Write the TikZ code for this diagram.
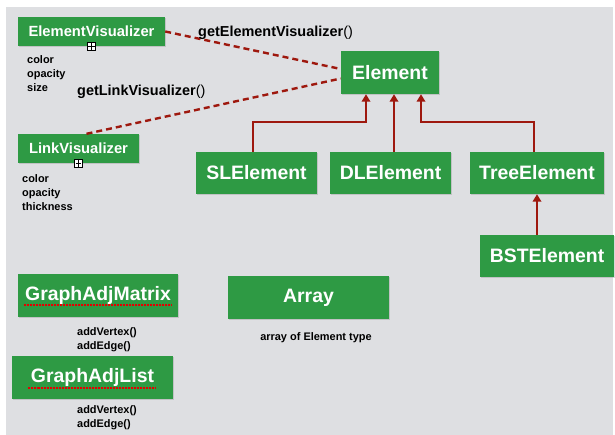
\documentclass[tikz,border=0pt]{standalone}
\usepackage{fontspec}
\setmainfont{Liberation Sans}
\usetikzlibrary{arrows.meta,shadows}

\definecolor{boxgreen}{RGB}{46,154,68}
\definecolor{linkred}{RGB}{158,24,14}
\definecolor{canvasgray}{RGB}{222,223,226}

\begin{document}
\begin{tikzpicture}[x=1bp,y=-1bp,
    classbox/.style={fill=boxgreen, text=white, inner sep=0pt,
      font=\bfseries\fontsize{19.5}{22}\selectfont,
      drop shadow={opacity=0.3, shadow xshift=0.6bp, shadow yshift=-0.8bp}},
    smallbox/.style={classbox, font=\bfseries\fontsize{14.8}{17}\selectfont},
    attrs/.style={align=left, anchor=north west, inner sep=0pt,
      font=\bfseries\fontsize{11}{14}\selectfont},
    method/.style={anchor=west, inner sep=0pt, font=\fontsize{14.5}{17}\selectfont},
    inherit/.style={draw=linkred, line width=1.8bp, -{Triangle[width=8.5bp,length=7.5bp]}},
    uses/.style={draw=linkred, line width=2.4bp, dash pattern=on 6bp off 4bp},
    plusbox/.style={draw=black, fill=white, line width=0.6bp, minimum size=8bp, inner sep=0pt},
    spell/.style={draw=red!90!black, line width=1.2bp, dash pattern=on 2bp off 1bp}
  ]
  \useasboundingbox (0,0) rectangle (615,435);
  \fill[white] (0,0) rectangle (615,435);
  \fill[canvasgray] (6,7) rectangle (613,435);

  % visualizers
  \node[smallbox, minimum width=147bp, minimum height=29bp] (evis) at (91.5,31.5) {ElementVisualizer};
  \node[smallbox, minimum width=121bp, minimum height=29bp] (lvis) at (78.5,148.5) {LinkVisualizer};
  \node[plusbox] (evisplus) at (evis.south) {};
  \node[plusbox] (lvisplus) at (lvis.south) {};
  \draw[line width=0.6bp, shorten <=1.5bp, shorten >=1.5bp]
    (evisplus.north) -- (evisplus.south) (evisplus.west) -- (evisplus.east)
    (lvisplus.north) -- (lvisplus.south) (lvisplus.west) -- (lvisplus.east);
  \node[attrs] (evisattr) at (27,55) {color\\opacity\\size};
  \node[attrs] (lvisattr) at (22,174) {color\\opacity\\thickness};

  % element hierarchy
  \node[classbox, minimum width=98bp, minimum height=43bp] (elem) at (390,72.5) {Element};
  \node[classbox, minimum width=121bp, minimum height=42bp] (sle) at (256.5,173) {SLElement};
  \node[classbox, minimum width=121bp, minimum height=42bp] (dle) at (390.5,173) {DLElement};
  \node[classbox, minimum width=134bp, minimum height=42bp] (tree) at (537,173) {TreeElement};
  \node[classbox, minimum width=134bp, minimum height=42bp] (bst) at (547,256) {BSTElement};

  \draw[inherit] ([xshift=-3.5bp]sle.north) -- ++(0,-30) -| ([xshift=-24bp]elem.south);
  \draw[inherit] ([xshift=3.5bp]dle.north) -- ([xshift=3.5bp]dle.north |- elem.south);
  \draw[inherit] ([xshift=-3bp]tree.north) -- ++(0,-30) -| ([xshift=31bp]elem.south);
  \draw[inherit] (tree.south |- bst.north) -- (tree.south);

  % visualizer links
  \draw[uses] (evis.east) -- ([yshift=3.5bp]elem.west);
  \draw[uses] ([xshift=8bp]lvis.north) -- ([yshift=-6bp]elem.west);
  \node[method] (getev) at (198,33) {\textbf{getElementVisualizer}()};
  \node[method] (getlv) at (77,92) {\textbf{getLinkVisualizer}()};

  % graphs and array
  \node[classbox, minimum width=160bp, minimum height=43bp] (gmat) at (98,295.5) {GraphAdjMatrix};
  \node[classbox, minimum width=161bp, minimum height=43bp] (arr) at (308.5,297.5) {Array};
  \node[classbox, minimum width=161bp, minimum height=43bp] (glist) at (92.5,377.5) {GraphAdjList};
  \draw[spell] ([xshift=-74bp,yshift=-9.5bp]gmat.center) -- ([xshift=74bp,yshift=-9.5bp]gmat.center);
  \draw[spell] ([xshift=-64bp,yshift=-10.5bp]glist.center) -- ([xshift=63bp,yshift=-10.5bp]glist.center);
  \node[attrs] (gmatops) at (77,327) {addVertex()\\addEdge()};
  \node[attrs] (glistops) at (77,405) {addVertex()\\addEdge()};
  \node[attrs, anchor=center] (arrnote) at (316,338) {array of Element type};
\end{tikzpicture}
\end{document}
